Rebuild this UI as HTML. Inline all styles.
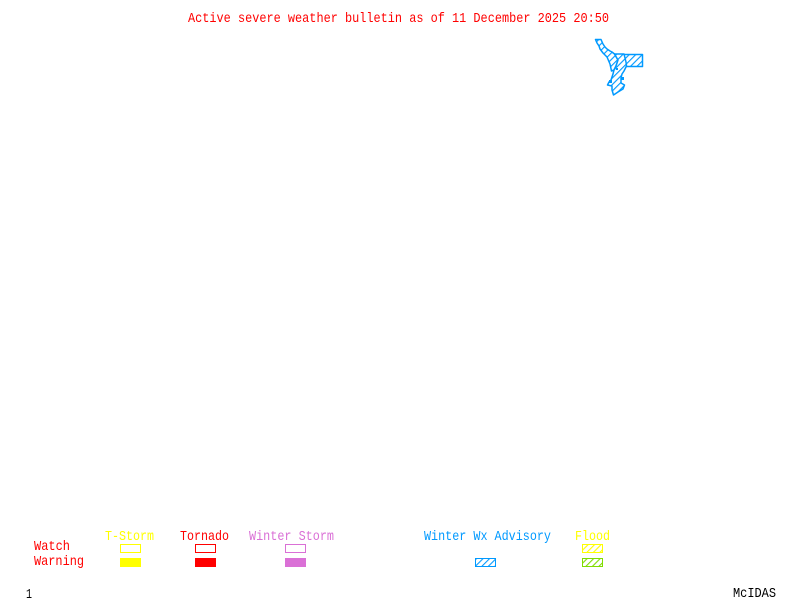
<!DOCTYPE html>
<html>
<head>
<meta charset="utf-8">
<style>
html,body{margin:0;padding:0;background:#fff;width:800px;height:600px;overflow:hidden}
svg{display:block}
text{font-family:"Liberation Mono",monospace;font-size:14px}
</style>
</head>
<body>
<svg width="800" height="600" viewBox="0 0 800 600" xmlns="http://www.w3.org/2000/svg">
<defs>
<pattern id="hb" width="4.6" height="4.6" patternUnits="userSpaceOnUse" patternTransform="rotate(45)"><rect width="4.6" height="4.6" fill="#fff"/><rect width="1.1" height="4.6" fill="#0099ff"/></pattern>
<pattern id="hy" width="4.6" height="4.6" patternUnits="userSpaceOnUse" patternTransform="rotate(45)"><rect width="4.6" height="4.6" fill="#fff"/><rect width="1.1" height="4.6" fill="#ffff00"/></pattern>
<pattern id="hg" width="4.6" height="4.6" patternUnits="userSpaceOnUse" patternTransform="rotate(45)"><rect width="4.6" height="4.6" fill="#fff"/><rect width="1.1" height="4.6" fill="#7fdd00"/></pattern>
</defs>

<text x="188" y="22" fill="#ff0000" textLength="421" lengthAdjust="spacingAndGlyphs">Active severe weather bulletin as of 11 December 2025 20:50</text>

<g stroke="#0099ff" stroke-width="1.5" stroke-linejoin="round" fill="url(#hb)">
<rect x="614.5" y="54.5" width="28" height="12"/>
<polygon points="595.5,39.5 601,39.5 603,44 605,47 607,49 610,51 612,52 614.5,54 618,60 616,66 614,70 611.5,71 610,64 607,57 603,53 600,49 599,46 597,43"/>
<polygon points="614.5,54 624,54 626,62 626.5,66 624,71 622,74 621,78 621,83 624.5,85 623,89 618,92 613.5,95 612,90 612,86 607.5,85 609,82 611,80 613,74 614,70 616,66 618,60"/>
</g>
<g fill="#0099ff"><rect x="609" y="80" width="3" height="3"/><rect x="621" y="77" width="3" height="3"/><rect x="616" y="68" width="2" height="2"/></g>

<text x="105" y="540" fill="#ffff00" textLength="49" lengthAdjust="spacingAndGlyphs">T-Storm</text>
<text x="180" y="540" fill="#ff0000" textLength="49" lengthAdjust="spacingAndGlyphs">Tornado</text>
<text x="249" y="540" fill="#da70d6" textLength="85" lengthAdjust="spacingAndGlyphs">Winter Storm</text>
<text x="424" y="540" fill="#0099ff" textLength="127" lengthAdjust="spacingAndGlyphs">Winter Wx Advisory</text>
<text x="575" y="540" fill="#ffff00" textLength="35" lengthAdjust="spacingAndGlyphs">Flood</text>
<text x="34" y="550" fill="#ff0000" textLength="36" lengthAdjust="spacingAndGlyphs">Watch</text>
<text x="34" y="565" fill="#ff0000" textLength="50" lengthAdjust="spacingAndGlyphs">Warning</text>

<g shape-rendering="crispEdges" stroke-width="1">
<rect x="120.5" y="544.5" width="20" height="8" fill="none" stroke="#ffff00"/>
<rect x="195.5" y="544.5" width="20" height="8" fill="none" stroke="#ff0000"/>
<rect x="285.5" y="544.5" width="20" height="8" fill="none" stroke="#da70d6"/>
<rect x="120" y="558" width="21" height="9" fill="#ffff00"/>
<rect x="195" y="558" width="21" height="9" fill="#ff0000"/>
<rect x="285" y="558" width="21" height="9" fill="#da70d6"/>
</g>
<rect x="475.5" y="558.5" width="20" height="8" fill="url(#hb)" stroke="#0099ff" stroke-width="1"/>
<rect x="582.5" y="544.5" width="20" height="8" fill="url(#hy)" stroke="#ffff00" stroke-width="1"/>
<rect x="582.5" y="558.5" width="20" height="8" fill="url(#hg)" stroke="#7fdd00" stroke-width="1"/>

<text x="26" y="598" fill="#000000" textLength="6" lengthAdjust="spacingAndGlyphs">1</text>
<text x="733" y="597" fill="#000000" textLength="43" lengthAdjust="spacingAndGlyphs">McIDAS</text>
</svg>
</body>
</html>
